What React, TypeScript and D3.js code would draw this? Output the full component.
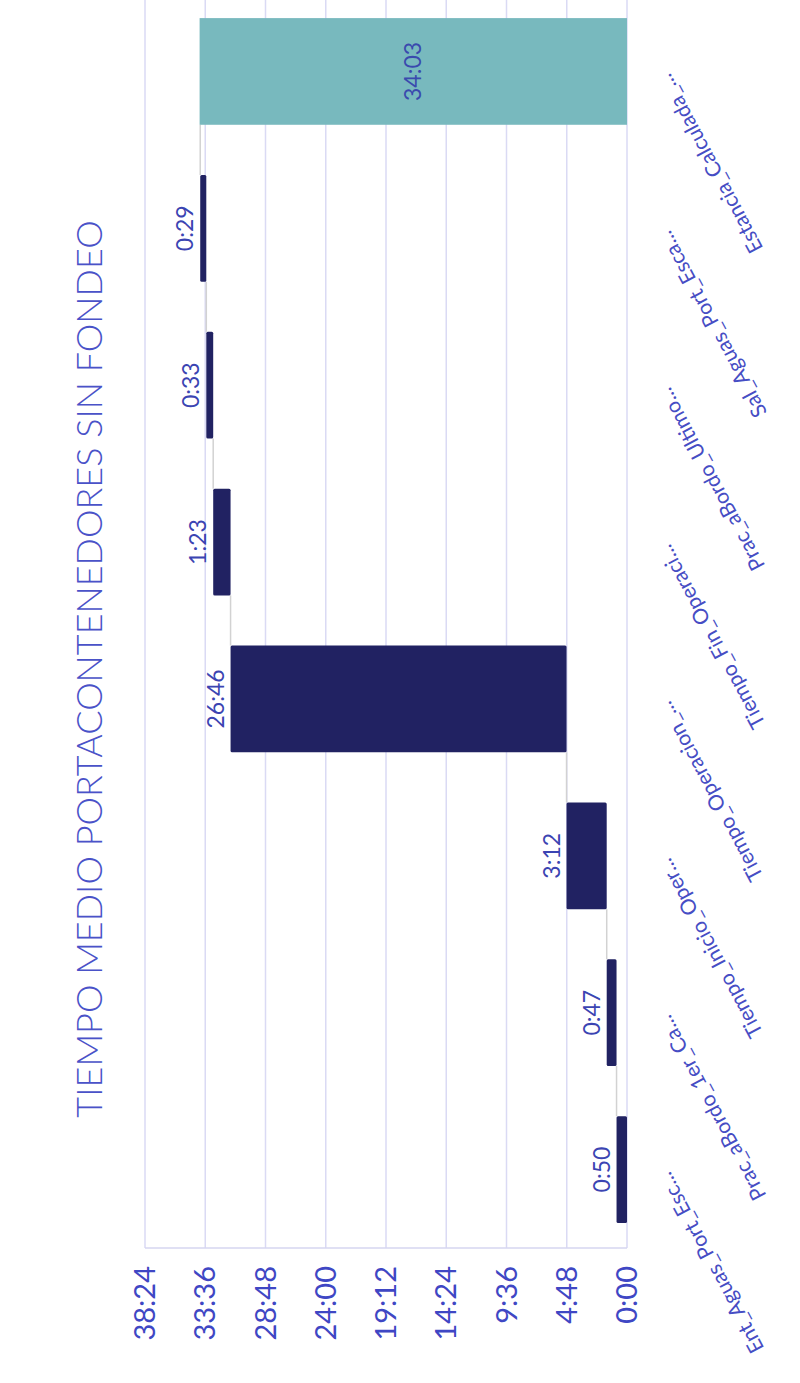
import * as React from "react";
import { scaleBand, scaleLinear } from "d3";

// chart data (waterfall, durations in h:mm)
const categories = [
  "Ent_Aguas_Port_Esc...",
  "Prac_aBordo_1er_Ca...",
  "Tiempo_Inicio_Oper...",
  "Tiempo_Operacion_...",
  "Tiempo_Fin_Operaci...",
  "Prac_aBordo_Ultimo...",
  "Sal_Aguas_Port_Esca...",
  "Estancia_Calculada_...",
];
const stepLabels = ["0:50", "0:47", "3:12", "26:46", "1:23", "0:33", "0:29"];
const totalLabel = "34:03";
const tickLabels = ["0:00", "4:48", "9:36", "14:24", "19:12", "24:00", "28:48", "33:36", "38:24"];
const title = "TIEMPO MEDIO PORTACONTENEDORES SIN FONDEO";

const toMinutes = (s: string) => {
  const [h, m] = s.split(":").map(Number);
  return h * 60 + m;
};

const W = 800;
const H = 1383;
const FONT = "Lato, 'Open Sans', sans-serif";

export default function App() {
  const ticks = tickLabels.map(toMinutes);
  const x = scaleLinear()
    .domain([0, ticks[ticks.length - 1]])
    .range([627, 145]);
  const y = scaleBand<string>()
    .domain(categories.slice().reverse())
    .range([-7, 1248])
    .paddingInner(0.32)
    .paddingOuter(0.16);
  const bw = y.bandwidth();

  // cumulative starts/ends of the floating bars
  let acc = 0;
  const steps = stepLabels.map((lab, i) => {
    const v = toMinutes(lab);
    const s = { cat: categories[i], from: acc, to: acc + v, label: lab };
    acc += v;
    return s;
  });
  const total = toMinutes(totalLabel);
  const totalCat = categories[categories.length - 1];

  const connectors = steps.map((s, i) => {
    const nextCat = categories[i + 1];
    return {
      x: x(s.to),
      y1: (y(nextCat) as number) + bw,
      y2: y(s.cat) as number,
    };
  });

  return (
    <svg
      width={W}
      height={H}
      style={{ position: "absolute", left: 0, top: 0, background: "#fff" }}
    >
      {/* gridlines */}
      {ticks.map((t) => (
        <line
          key={t}
          x1={x(t)}
          x2={x(t)}
          y1={0}
          y2={1248}
          stroke="#dadaf4"
          strokeWidth={1.5}
        />
      ))}
      <line x1={145} x2={627} y1={1248} y2={1248} stroke="#d6d6f0" strokeWidth={1.5} />

      {/* connectors */}
      {connectors.map((c, i) => (
        <line
          key={i}
          x1={c.x}
          x2={c.x}
          y1={c.y1}
          y2={c.y2}
          stroke="#d2d2d2"
          strokeWidth={1.5}
        />
      ))}

      {/* step bars */}
      {steps.map((s) => (
        <rect
          key={s.cat}
          x={x(s.to)}
          y={y(s.cat)}
          width={x(s.from) - x(s.to)}
          height={bw}
          rx={1.5}
          fill="#212262"
        />
      ))}
      {/* total bar */}
      <rect
        x={x(total)}
        y={y(totalCat)}
        width={x(0) - x(total)}
        height={bw}
        fill="#78b9be"
      />

      {/* value labels */}
      {steps.map((s) => {
        const cx = x(s.to) - 7;
        const cy = (y(s.cat) as number) + bw / 2;
        return (
          <text
            key={s.cat}
            transform={`translate(${cx},${cy}) rotate(-90)`}
            textAnchor="middle"
            fontFamily={FONT}
            fontSize={23}
            fill="#3b44b2"
          >
            {s.label}
          </text>
        );
      })}
      <text
        transform={`translate(${(x(total) + x(0)) / 2},${(y(totalCat) as number) + bw / 2}) rotate(-90)`}
        textAnchor="middle"
        dy="0.35em"
        fontFamily={FONT}
        fontSize={23}
        fill="#3a4aae"
      >
        {totalLabel}
      </text>

      {/* value axis tick labels */}
      {ticks.map((t, i) => (
        <text
          key={t}
          transform={`translate(${x(t)},1266) rotate(-90)`}
          textAnchor="end"
          dy="0.35em"
          fontFamily={FONT}
          fontSize={29}
          fill="#3f47c4"
        >
          {tickLabels[i]}
        </text>
      ))}

      {/* category labels */}
      {categories.map((c) => (
        <text
          key={c}
          transform={`translate(670,${(y(c) as number) + bw / 2 + 1}) rotate(-118)`}
          textAnchor="end"
          fontFamily={FONT}
          fontSize={21}
          fill="#464dc4"
        >
          {c}
        </text>
      ))}

      {/* title */}
      <text
        transform={`translate(102,669) rotate(-90)`}
        textAnchor="middle"
        fontFamily={FONT}
        fontWeight={300}
        fontSize={36}
        fill="#4a52c8"
      >
        {title}
      </text>
    </svg>
  );
}
